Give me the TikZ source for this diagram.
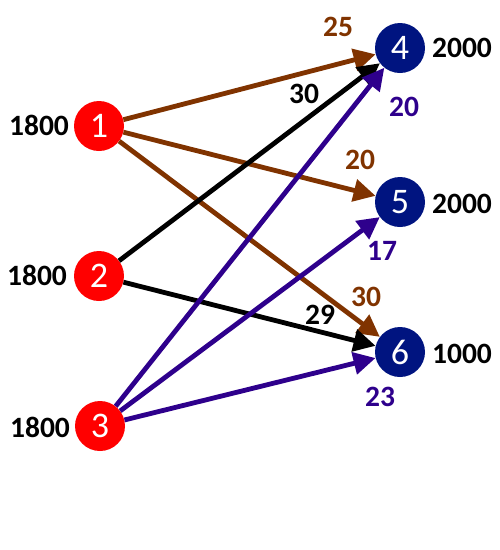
\documentclass[tikz,border=0pt]{standalone}
\usepackage{fontspec}
\setmainfont{Carlito}
\usetikzlibrary{arrows.meta}
\definecolor{brn}{RGB}{128,51,0}
\definecolor{prp}{RGB}{46,0,140}
\definecolor{nvy}{RGB}{0,20,128}
\begin{document}
\begin{tikzpicture}[x=1pt,y=-1pt,
  src/.style={circle, fill=red, minimum size=50pt, inner sep=0pt, text=white, font=\fontsize{36}{36}\selectfont},
  dst/.style={circle, fill=nvy, minimum size=50pt, inner sep=0pt, text=white, font=\fontsize{36}{36}\selectfont},
  lbl/.style={font=\bfseries\fontsize{29.5}{29.5}\selectfont, inner sep=0pt},
  edge/.style={line width=4.8pt, -{Triangle[length=22pt,width=22pt]}}]
\useasboundingbox (0,0) rectangle (500,550);
\node[src] (n1) at (99,126) {1};
\node[src] (n2) at (99,276) {2};
\node[src] (n3) at (100,426) {3};
\node[dst] (n4) at (400,48) {4};
\node[dst] (n5) at (400,202) {5};
\node[dst] (n6) at (400,352) {6};
\node[lbl] (s1) at (39,125) {1800};
\node[lbl] (s2) at (37,275) {1800};
\node[lbl] (s3) at (40,427) {1800};
\node[lbl] (d4) at (462,48) {2000};
\node[lbl] (d5) at (462,204) {2000};
\node[lbl] (d6) at (462,354) {1000};
\draw[edge, brn] (n1) -- (n4);
\draw[edge, brn] (n1) -- (n5);
\draw[edge, brn] (n1) -- (n6);
\draw[edge, black] (n2) -- (n4);
\draw[edge, black] (n2) -- (n6);
\draw[edge, prp] (n3) -- (n4);
\draw[edge, prp] (n3) -- (n5);
\draw[edge, prp] (n3) -- (n6);
\node[lbl, text=brn] (c14) at (338,27) {25};
\node[lbl, text=black] (c24) at (304,94) {30};
\node[lbl, text=prp] (c34) at (404,107) {20};
\node[lbl, text=brn] (c15) at (360,160) {20};
\node[lbl, text=prp] (c35) at (382,251) {17};
\node[lbl, text=brn] (c16) at (366,297) {30};
\node[lbl, text=black] (c26) at (320,315) {29};
\node[lbl, text=prp] (c36) at (380,397) {23};
\end{tikzpicture}
\end{document}
